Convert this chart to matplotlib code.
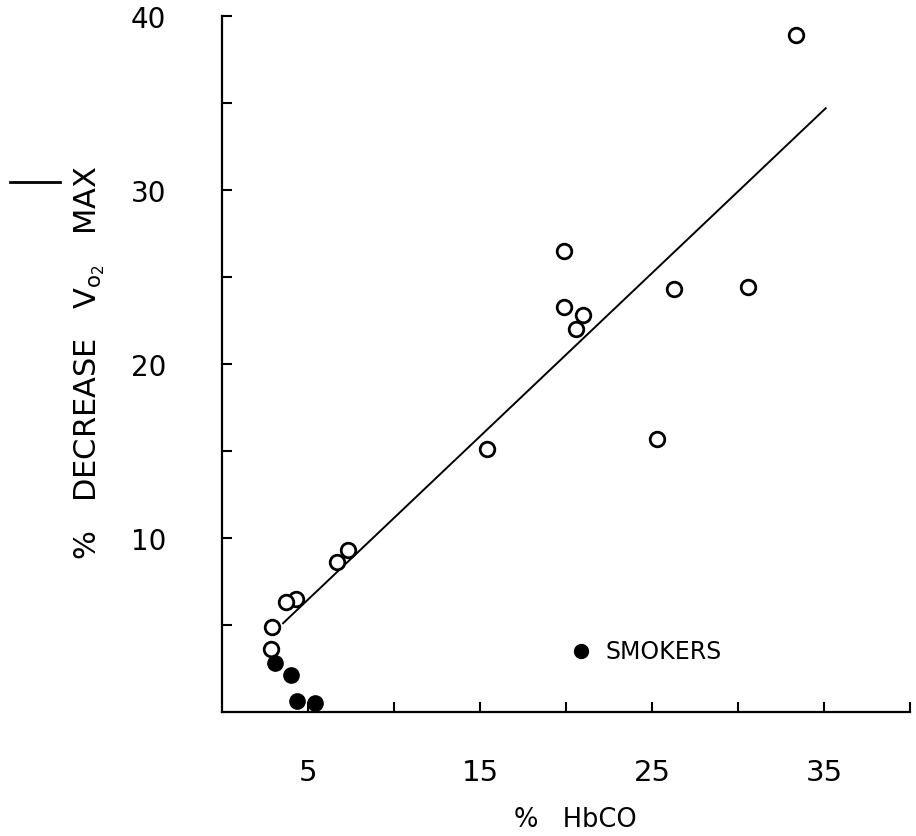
import matplotlib
matplotlib.use("Agg")
import matplotlib.pyplot as plt
from matplotlib.lines import Line2D

# Nonsmokers (open circles)
hbco_open = [33.4, 19.9, 19.9, 21.0, 20.6, 15.4, 26.3, 30.6, 25.3, 7.3, 6.7, 4.3, 3.7, 2.9, 2.85]
dec_open = [38.9, 26.5, 23.3, 22.8, 22.0, 15.1, 24.3, 24.4, 15.7, 9.3, 8.6, 6.5, 6.3, 4.9, 3.6]

# Smokers (filled circles)
hbco_smk = [3.1, 4.0, 4.35, 5.4]
dec_smk = [2.8, 2.15, 0.65, 0.5]

# Regression line end points
fit_x = [3.55, 35.1]
fit_y = [5.1, 34.7]

x_major = [5, 15, 25, 35]
x_minor = [10, 20, 30, 40]
y_major = [10, 20, 30, 40]
y_minor = [5, 15, 25, 35]

fig = plt.figure(figsize=(9.16, 8.37), dpi=100)
ax = fig.add_axes([222/916, 1-713/837, 688/916, 696/837])

ax.plot(fit_x, fit_y, color="black", lw=1.4, zorder=2)
ax.plot(hbco_open, dec_open, "o", ms=10.5, mfc="white", mec="black", mew=2.0, zorder=3)
ax.plot(hbco_smk, dec_smk, "o", ms=11, mfc="black", mec="black", zorder=3)

ax.set_xlim(0, 40)
ax.set_ylim(0, 40)
for s in ["top", "right"]:
    ax.spines[s].set_visible(False)
for s in ["left", "bottom"]:
    ax.spines[s].set_linewidth(1.6)

ax.set_xticks(x_major)
ax.set_xticks(x_minor, minor=True)
ax.set_yticks(y_major)
ax.set_yticks(y_minor, minor=True)
ax.tick_params(axis="both", which="both", direction="in", length=7, width=1.5)
ax.tick_params(axis="x", which="major", labelsize=21, pad=33)
ax.tick_params(axis="y", which="major", labelsize=20, pad=40)

# Legend for smokers
ax.plot([20.9], [3.52], "o", ms=10, mfc="black", mec="black", clip_on=False)
ax.text(22.3, 3.52, "SMOKERS", fontsize=17, va="center", ha="left")

ax.text(0.513, -0.154, "%   HbCO", transform=ax.transAxes, fontsize=18.5,
        ha="center", va="center")
ax.text(-0.192, 0.504, r"%   DECREASE   V$\mathregular{_{o_2}}$   MAX", transform=ax.transAxes,
        fontsize=22, ha="center", va="center", rotation=90)

fig.add_artist(Line2D([10/916, 60/916], [1-183/837, 1-183/837], color="black", lw=2))

fig.savefig("out.png", dpi=100)
